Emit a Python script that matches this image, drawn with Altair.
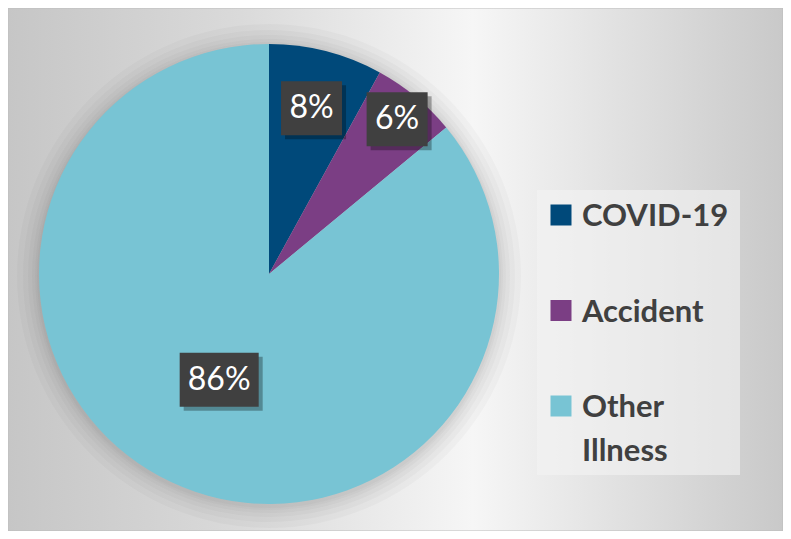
import altair as alt
import pandas as pd

categories = ["COVID-19", "Accident", "Other Illness"]
values = [8, 6, 86]
labels = ["8%", "6%", "86%"]
colors = ["#00497A", "#7B3E84", "#78C4D4"]

W, H = 775, 523
CX, CY, R = 261, 266, 230

df = pd.DataFrame({"cat": categories, "value": values, "label": labels, "idx": list(range(len(categories)))})
one = pd.DataFrame({"v": [1]})

color = alt.Color("cat:N", scale=alt.Scale(domain=categories, range=colors), legend=None)

bg = alt.Chart(one).mark_rect(
    color=alt.LinearGradient(
        gradient="linear", x1=0, x2=1, y1=0, y2=0,
        stops=[alt.GradientStop(offset=0, color="#C6C6C6"),
               alt.GradientStop(offset=0.3, color="#DADADA"),
               alt.GradientStop(offset=0.6, color="#F6F6F6"),
               alt.GradientStop(offset=1, color="#C9C9C9")]),
    stroke="#BDBDBD", strokeWidth=1,
).encode(x=alt.value(0), x2=alt.value(W), y=alt.value(0), y2=alt.value(H))

glow = [
    alt.Chart(one).mark_point(shape="circle", filled=True, color="black", opacity=0.022,
                              size=(2 * (R + k)) ** 2, strokeWidth=0).encode(
        x=alt.value(CX), y=alt.value(CY + 2))
    for k in (22, 16, 11, 7, 4, 2)
]

pie = alt.Chart(df).mark_arc(outerRadius=R).encode(
    theta=alt.Theta("value:Q", stack=True),
    color=color,
    order=alt.Order("idx:Q"),
    x=alt.value(CX), y=alt.value(CY),
)

lab = alt.Chart(df).transform_joinaggregate(
    total="sum(value)"
).transform_window(
    cum="sum(value)", sort=[alt.SortField("idx")], frame=[None, 0]
).transform_calculate(
    mid="(datum.cum - datum.value/2) / datum.total * 2 * PI",
    lr="datum.idx == 0 ? 171 : datum.idx == 1 ? 201 : 117",
).transform_calculate(
    lx=f"{CX} + datum.lr * sin(datum.mid)",
    ly=f"{CY} - datum.lr * cos(datum.mid)",
    bw="25 + 18 * length(datum.label)",
).transform_calculate(
    bx1="datum.lx - datum.bw/2", bx2="datum.lx + datum.bw/2",
    by1="datum.ly - 27", by2="datum.ly + 27",
    sx1="datum.lx - datum.bw/2 + 4", sx2="datum.lx + datum.bw/2 + 4",
    sy1="datum.ly - 23", sy2="datum.ly + 31",
)

shadow = lab.mark_rect(color="black", opacity=0.3).encode(
    x=alt.X("sx1:Q", scale=None, axis=None), x2="sx2:Q",
    y=alt.Y("sy1:Q", scale=None, axis=None), y2="sy2:Q")
box = lab.mark_rect(color="#404040").encode(
    x=alt.X("bx1:Q", scale=None, axis=None), x2="bx2:Q",
    y=alt.Y("by1:Q", scale=None, axis=None), y2="by2:Q")
txt = lab.mark_text(font="Lato", fontSize=32, color="white", baseline="middle", align="center").encode(
    x=alt.X("lx:Q", scale=None, axis=None),
    y=alt.Y("ly:Q", scale=None, axis=None),
    text="label:N")

legbg = alt.Chart(one).mark_rect(color="#F4F4F4", opacity=0.6).encode(
    x=alt.value(529), x2=alt.value(732), y=alt.value(182), y2=alt.value(467))

leg = alt.Chart(df).transform_calculate(
    sy="207 + 95.5 * datum.idx", ty="218 + 95.5 * datum.idx")
sw = leg.mark_square(size=441, opacity=1, filled=True).encode(
    x=alt.value(553), y=alt.Y("sy:Q", scale=None, axis=None), color=color)
lt = leg.mark_text(font="Lato", fontSize=31, fontWeight="bold", color="#404040",
                   align="left", baseline="alphabetic", lineBreak=" ", lineHeight=44).encode(
    x=alt.value(574), y=alt.Y("ty:Q", scale=None, axis=None), text="cat:N")

chart = alt.layer(bg, *glow, pie, shadow, box, txt, legbg, sw, lt).properties(
    width=W, height=H, padding=0, autosize=alt.AutoSizeParams(type="none")
).configure_view(stroke=None)

chart.save("out.html", embed_options={"renderer": "svg", "actions": False})
